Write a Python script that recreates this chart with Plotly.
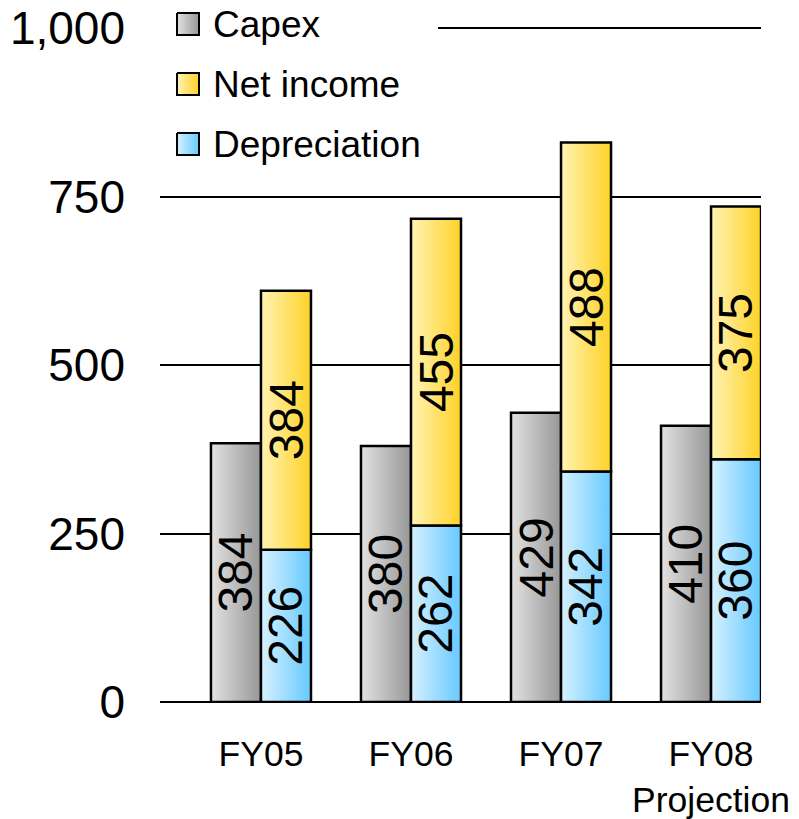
import plotly.graph_objects as go

# Fiscal-year data (values in the same units as the y axis)
categories = ["FY05", "FY06", "FY07", "FY08<br>Projection"]
capex = [384, 380, 429, 410]
depreciation = [226, 262, 342, 360]
net_income = [384, 455, 488, 375]

series_names = ["Capex", "Net income", "Depreciation"]
y_ticks = [0, 250, 500, 750, 1000]

FONT = "Liberation Sans, Arial, sans-serif"
BAR_W = 1 / 3
GRADIENTS = {
    "Capex": ("#e2e2e2", "#979797"),
    "Net income": ("#fff3b4", "#ffd227"),
    "Depreciation": ("#d6f1ff", "#67c9ff"),
}

# pixel geometry: plot area spans x 160..761, y 0..702 (y=1000 sits at 28 px)
W, H = 799, 819
L, R, T, B = 160, 38, 0, 117
PW, PH = W - L - R, H - T - B
Y_TOP = 1000 * PH / 674  # value at the top edge of the plot area


def grad_rect(x0, x1, y0, y1, name, xaxis="x", yaxis="y", width=2.5):
    c1, c2 = GRADIENTS[name]
    return go.Scatter(
        x=[x0, x1, x1, x0, x0],
        y=[y0, y0, y1, y1, y0],
        xaxis=xaxis, yaxis=yaxis,
        mode="lines",
        fill="toself",
        fillgradient=dict(type="horizontal", colorscale=[[0, c1], [1, c2]]),
        line=dict(color="black", width=width),
        hoverinfo="skip",
        showlegend=False,
        name=name,
    )


fig = go.Figure()
annotations = []

for i in range(len(categories)):
    # capex bar on the left half of each category
    fig.add_trace(grad_rect(i - BAR_W, i, 0, capex[i], "Capex"))
    # depreciation + net income stacked on the right half
    fig.add_trace(grad_rect(i, i + BAR_W, 0, depreciation[i], "Depreciation"))
    fig.add_trace(grad_rect(i, i + BAR_W, depreciation[i],
                            depreciation[i] + net_income[i], "Net income"))

    for xc, yc, v in [
        (i - BAR_W / 2, capex[i] / 2, capex[i]),
        (i + BAR_W / 2, depreciation[i] / 2, depreciation[i]),
        (i + BAR_W / 2, depreciation[i] + net_income[i] / 2, net_income[i]),
    ]:
        annotations.append(dict(
            x=xc, y=yc, xref="x", yref="y", text=str(v), showarrow=False,
            textangle=-90, font=dict(family=FONT, size=48, color="black"),
        ))

# legend on a pixel-based overlay axis pair: a white panel (hides that stretch
# of the top gridline), gradient swatches and text labels
fig.add_trace(go.Scatter(
    x=[150, 438, 438, 150, 150], y=[0, 0, 170, 170, 0],
    xaxis="x2", yaxis="y2", mode="lines", fill="toself",
    fillcolor="white", line=dict(width=0), hoverinfo="skip", showlegend=False,
))
legend_y = [24, 84, 144]
for name, cy in zip(series_names, legend_y):
    fig.add_trace(grad_rect(177, 199, cy - 11, cy + 11, name,
                            xaxis="x2", yaxis="y2", width=2))
    annotations.append(dict(
        x=211, y=cy, xref="x2", yref="y2",
        text=name, showarrow=False, xanchor="left", yanchor="middle",
        font=dict(family=FONT, size=37, color="black"),
    ))

fig.update_layout(
    width=W, height=H,
    margin=dict(l=L, r=R, t=T, b=B),
    paper_bgcolor="white", plot_bgcolor="white",
    showlegend=False,
    font=dict(family=FONT, color="black"),
    annotations=annotations,
    xaxis=dict(
        range=[-0.673, 3.333],
        tickvals=list(range(len(categories))), ticktext=categories,
        tickfont=dict(size=35.5), showgrid=False, zeroline=False,
        showline=False, ticks="", ticklabelstandoff=27, automargin=False,
    ),
    yaxis=dict(
        range=[0, Y_TOP], tickvals=y_ticks, tickformat=",d",
        tickfont=dict(size=46), showgrid=True, gridcolor="black",
        gridwidth=2, zeroline=True, zerolinecolor="black", zerolinewidth=2,
        showline=False, ticks="", ticklabelstandoff=34, automargin=False,
    ),
    xaxis2=dict(range=[L, W - R], overlaying="x", visible=False,
                anchor="y2", automargin=False),
    yaxis2=dict(range=[H - B, 0], overlaying="y", visible=False,
                anchor="x2", automargin=False),
)

fig.write_html("out.html")
